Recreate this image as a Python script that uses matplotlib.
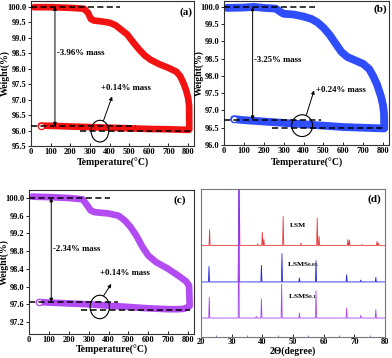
import matplotlib
matplotlib.use("Agg")
import matplotlib.pyplot as plt
from matplotlib.patches import Ellipse
import numpy as np

plt.rcParams['font.family'] = ['Liberation Serif', 'DejaVu Serif']
plt.rcParams['font.weight'] = 'bold'
plt.rcParams['mathtext.fontset'] = 'custom'
plt.rcParams['mathtext.rm'] = 'Liberation Serif:bold'
plt.rcParams['mathtext.default'] = 'rm'

# ---------------- Data ----------------
# Panel (a) LSM TGA
a_heat_T = [15, 100, 200, 270, 290, 305, 320, 360, 400, 430, 460, 490, 520, 550, 580, 610, 650, 700, 740, 760, 775, 790, 800, 805, 806]
a_heat_W = [99.98, 99.98, 99.96, 99.93, 99.8, 99.6, 99.55, 99.52, 99.48, 99.4, 99.25, 99.1, 98.85, 98.62, 98.42, 98.28, 98.15, 98.02, 97.9, 97.75, 97.55, 97.3, 97.05, 96.8, 96.05]
a_cool_T = [806, 800, 700, 600, 500, 400, 300, 200, 100, 50]
a_cool_W = [96.03, 96.02, 96.04, 96.05, 96.07, 96.09, 96.11, 96.13, 96.15, 96.16]

# Panel (b) LSMS0.05 TGA
b_heat_T = [15, 100, 150, 200, 260, 285, 300, 350, 400, 440, 470, 500, 530, 560, 590, 620, 660, 700, 730, 750, 770, 790, 800, 805, 806]
b_heat_W = [99.97, 99.98, 100.0, 99.97, 99.95, 99.85, 99.8, 99.78, 99.72, 99.65, 99.55, 99.4, 99.2, 98.95, 98.7, 98.55, 98.45, 98.35, 98.2, 98.0, 97.75, 97.4, 97.15, 96.9, 96.5]
b_cool_T = [806, 800, 700, 600, 500, 400, 300, 200, 100, 50]
b_cool_W = [96.48, 96.48, 96.5, 96.52, 96.56, 96.6, 96.64, 96.68, 96.72, 96.75]

# Panel (c) LSMS0.1 TGA
c_heat_T = [15, 100, 200, 270, 290, 310, 330, 400, 450, 480, 510, 540, 570, 600, 640, 700, 750, 790, 805, 808]
c_heat_W = [100.03, 100.02, 100.0, 99.97, 99.85, 99.72, 99.68, 99.65, 99.6, 99.5, 99.35, 99.15, 98.9, 98.7, 98.55, 98.4, 98.25, 98.12, 98.02, 97.6]
c_cool_T = [808, 800, 780, 750, 700, 600, 500, 400, 300, 200, 100, 50]
c_cool_W = [97.56, 97.54, 97.5, 97.49, 97.49, 97.51, 97.54, 97.57, 97.6, 97.62, 97.64, 97.65]

# Annotation values
a_levels = [100.0, 96.14, 96.0]
b_levels = [100.0, 96.73, 96.48]
c_levels = [100.0, 97.65, 97.48]
a_texts = ["-3.96% mass", "+0.14% mass"]
b_texts = ["-3.25% mass", "+0.24% mass"]
c_texts = ["-2.34% mass", "+0.14% mass"]

# Panel (d) XRD: peak positions (2theta) and peak heights (arb.)
lsm_pos = [22.8, 32.5, 38.5, 40.0, 40.5, 46.8, 52.6, 57.9, 58.5, 67.9, 68.4, 72.5, 77.4, 77.8]
lsm_h = [72.5, 100.0, 63.0, 70.7, 66.0, 81.5, 63.5, 80.4, 68.0, 65.8, 65.5, 62.5, 64.6, 63.5]
lsm_base = 61.9
s05_pos = [22.6, 32.3, 39.7, 46.4, 52.1, 57.5, 67.5, 72.1, 77.0]
s05_h = [47.7, 99.5, 48.4, 56.3, 39.9, 51.6, 42.1, 38.5, 40.3]
s05_base = 37.2
s1_pos = [22.7, 32.3, 38.0, 39.7, 46.3, 52.1, 57.5, 67.5, 72.1, 77.0]
s1_h = [26.8, 99.5, 14.0, 25.9, 35.8, 16.2, 31.3, 19.6, 14.6, 18.5]
s1_base = 12.8
xrd_labels = ["LSM", "LSMS$_{0.05}$", "LSMS$_{0.1}$"]

RED = '#f21212'
BLUE = '#2f4dfa'
PURPLE = '#b24cf2'

W, H = 392, 358
fig = plt.figure(figsize=(W / 100, H / 100), dpi=100)

def rect(l, t, r, b):
    return [l / W, 1 - b / H, (r - l) / W, (b - t) / H]

axA = fig.add_axes(rect(31, 1, 194, 146))
axB = fig.add_axes(rect(224, 1, 389, 145))
axC = fig.add_axes(rect(29, 190, 194, 334))
axD = fig.add_axes(rect(201, 189, 385, 337))

TICKFS = 6.0
LABFS = 7.0

def style(ax):
    for s in ax.spines.values():
        s.set_color('#333333')
        s.set_linewidth(0.8)
    ax.tick_params(axis='x', direction='in', length=2.5, width=0.6, labelsize=TICKFS, pad=1.5)
    ax.tick_params(axis='y', direction='out', length=2.5, width=0.6, labelsize=TICKFS, pad=1)
    for lab in ax.get_xticklabels() + ax.get_yticklabels():
        lab.set_fontweight('bold')

def tga(ax, hT, hW, cT, cW, color, lw, levels, texts, ylim, yticks, yfmt,
        arrow_x, dash_ends, circ, circ_w, circ_h, arrow_tip, text2_xy, text1_y, letter, letter_xy, ylab_x, xlab_y):
    ax.plot(hT + cT, hW + cW, color=color, lw=lw, solid_capstyle='round', solid_joinstyle='round', zorder=2)
    ax.plot([cT[-1]], [cW[-1]], 'o', ms=4.5, mfc='white', mec=color, mew=0.9, zorder=3)
    dk = dict(color='black', lw=1.1, dashes=(4, 2.2), zorder=4)
    ax.plot([0, dash_ends[0]], [levels[0], levels[0]], **dk)
    ax.plot([0, dash_ends[1]], [levels[1], levels[1]], **dk)
    ax.plot([dash_ends[2], dash_ends[3]], [levels[2], levels[2]], **dk)
    ax.annotate('', xy=(arrow_x, levels[1]), xytext=(arrow_x, levels[0]),
                arrowprops=dict(arrowstyle='<|-|>', color='black', lw=0.7,
                                mutation_scale=5, shrinkA=0, shrinkB=0), zorder=5)
    ax.text(arrow_x + 8, text1_y, texts[0], fontsize=6.3, fontweight='bold', va='center', ha='left')
    ax.add_patch(Ellipse(circ, circ_w, circ_h, fill=False, ec='black', lw=0.8, zorder=5))
    start = (circ[0] + circ_w * 0.2, circ[1] + circ_h * 0.48)
    ax.annotate('', xy=arrow_tip, xytext=start,
                arrowprops=dict(arrowstyle='-|>', color='black', lw=0.7,
                                mutation_scale=5, shrinkA=0, shrinkB=0), zorder=5)
    ax.text(text2_xy[0], text2_xy[1], texts[1], fontsize=6.3, fontweight='bold', va='center', ha='left')
    ax.set_xlim(0, 830)
    ax.set_ylim(*ylim)
    ax.set_xticks(np.arange(0, 801, 100))
    ax.set_yticks(yticks)
    ax.set_yticklabels([yfmt.format(v) for v in yticks])
    ax.set_xlabel('Temperature(\u00b0C)', fontsize=LABFS, fontweight='bold')
    ax.set_ylabel('Weight(%)', fontsize=LABFS, fontweight='bold')
    ax.yaxis.set_label_coords(ylab_x, 0.5)
    ax.xaxis.set_label_coords(0.5, xlab_y)
    ax.text(letter_xy[0], letter_xy[1], letter, transform=ax.transAxes, fontsize=8,
            fontweight='bold', ha='center', va='center')
    style(ax)

tga(axA, a_heat_T, a_heat_W, a_cool_T, a_cool_W, RED, 4.8, a_levels, a_texts,
    (95.5, 100.18), np.arange(95.5, 100.01, 0.5), '{:.1f}',
    122, [452, 537, 249, 817], (351, 95.98), 90, 0.70, (413, 97.1), (355, 97.38), 98.5,
    '(a)', (0.95, 0.925), -0.129, -0.083)

tga(axB, b_heat_T, b_heat_W, b_cool_T, b_cool_W, BLUE, 5.6, b_levels, b_texts,
    (96.0, 100.17), np.arange(96.0, 100.01, 0.5), '{:.1f}',
    144, [457, 490, 239, 808], (393, 96.56), 105, 0.63, (453, 97.58), (462, 97.6), 98.47,
    '(b)', (0.95, 0.94), -0.121, -0.09)

tga(axC, c_heat_T, c_heat_W, c_cool_T, c_cool_W, PURPLE, 4.8, c_levels, c_texts,
    (96.93, 100.18), np.arange(97.2, 100.01, 0.4), '{:.1f}',
    112, [406, 448, 263, 809], (356, 97.54), 97, 0.53, (414, 98.06), (356, 98.31), 98.85,
    '(c)', (0.915, 0.93), -0.121, -0.076)

# ---------------- Panel (d) ----------------
def stick_line(pos, h, base, w=0.18):
    xs = [20.0]
    ys = [base]
    for p, hh in zip(pos, h):
        xs += [p - w, p, p + w]
        ys += [base, hh, base]
    xs.append(80.0)
    ys.append(base)
    return xs, ys

for pos, h, base, col in [(lsm_pos, lsm_h, lsm_base, '#e8363a'),
                          (s05_pos, s05_h, s05_base, '#2424e6'),
                          (s1_pos, s1_h, s1_base, '#a646f0')]:
    xs, ys = stick_line(pos, h, base)
    axD.plot(xs, ys, color=col, lw=0.6)

axD.text(49.1, 75.3, xrd_labels[0], fontsize=5.4, fontweight='bold', va='center')
axD.text(47.9, 49.0, xrd_labels[1], fontsize=5.4, fontweight='bold', va='center')
axD.text(48.4, 27.5, xrd_labels[2], fontsize=5.4, fontweight='bold', va='center')
axD.text(0.94, 0.93, '(d)', transform=axD.transAxes, fontsize=8, fontweight='bold', ha='center', va='center')
axD.set_xlim(20, 80)
axD.set_ylim(0, 100)
axD.set_xticks(np.arange(20, 81, 10))
axD.set_xticks(np.arange(20, 81, 5), minor=True)
axD.set_yticks([])
axD.set_xlabel('2\u0398(degree)', fontsize=LABFS, fontweight='bold')
axD.xaxis.set_label_coords(0.5, -0.064)
style(axD)
axD.tick_params(axis='x', which='major', pad=1)
axD.tick_params(axis='x', which='minor', direction='in', length=1.5, width=0.5, color='#4050c0')
for s in axD.spines.values():
    s.set_color('#777777')

fig.savefig('out.png', dpi=100)
